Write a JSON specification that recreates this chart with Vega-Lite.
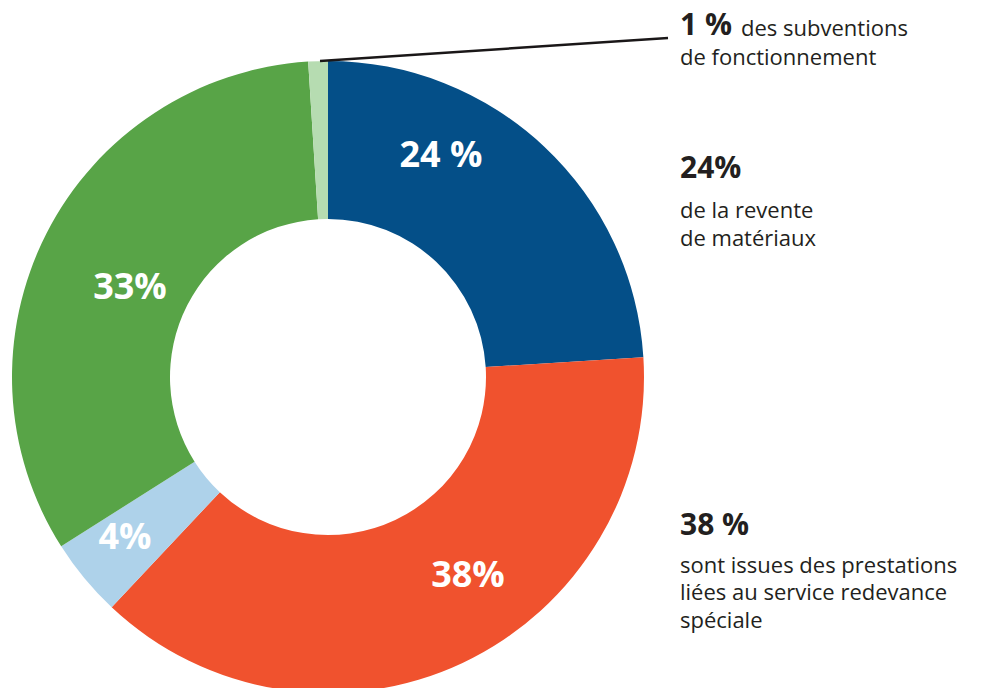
{
  "$schema": "https://vega.github.io/schema/vega-lite/v6.json",
  "width": 656,
  "height": 754,
  "autosize": {"type": "none"},
  "padding": {"left": 0, "top": 0, "right": 330, "bottom": 0},
  "background": "white",
  "config": {"view": {"stroke": null}, "font": "Open Sans"},
  "layer": [
    {
      "data": {"values": [
        {"source": "Revente de matériaux", "pct": 24, "rank": 1},
        {"source": "Prestations service redevance spéciale", "pct": 38, "rank": 2},
        {"source": "Autres recettes (4 %)", "pct": 4, "rank": 3},
        {"source": "Autres recettes (33 %)", "pct": 33, "rank": 4},
        {"source": "Subventions de fonctionnement", "pct": 1, "rank": 5}
      ]},
      "mark": {"type": "arc", "outerRadius": 316, "innerRadius": 158},
      "encoding": {
        "theta": {"field": "pct", "type": "quantitative", "stack": true},
        "order": {"field": "rank", "type": "quantitative"},
        "color": {
          "field": "source", "type": "nominal", "legend": null,
          "scale": {
            "domain": ["Revente de matériaux", "Prestations service redevance spéciale", "Autres recettes (4 %)", "Autres recettes (33 %)", "Subventions de fonctionnement"],
            "range": ["#044F88", "#F0522E", "#AED2EA", "#58A447", "#B6DCB1"]
          }
        }
      }
    },
    {
      "data": {"values": [{"ax": 320, "ay": 61, "bx": 668, "by": 38}]},
      "mark": {"type": "rule", "stroke": "#1A1718", "strokeWidth": 2.5},
      "encoding": {
        "x": {"field": "ax", "type": "quantitative", "axis": null, "scale": {"domain": [0, 656], "nice": false, "zero": false}},
        "y": {"field": "ay", "type": "quantitative", "axis": null, "scale": {"domain": [0, 754], "reverse": true, "nice": false, "zero": false}},
        "x2": {"field": "bx"},
        "y2": {"field": "by"}
      }
    },
    {
      "data": {"values": [
        {"label": "24 %", "lx": 441, "ly": 167},
        {"label": "38%", "lx": 468, "ly": 587},
        {"label": "4%", "lx": 125, "ly": 549},
        {"label": "33%", "lx": 130, "ly": 299}
      ]},
      "mark": {"type": "text", "fontSize": 36, "fontWeight": "bold", "fill": "white", "align": "center", "baseline": "alphabetic"},
      "encoding": {
        "x": {"field": "lx", "type": "quantitative", "axis": null, "scale": {"domain": [0, 656], "nice": false, "zero": false}},
        "y": {"field": "ly", "type": "quantitative", "axis": null, "scale": {"domain": [0, 754], "reverse": true, "nice": false, "zero": false}},
        "text": {"field": "label"}
      }
    },
    {
      "data": {"values": [
        {"label": "1 %", "lx": 680, "ly": 35},
        {"label": "24%", "lx": 680, "ly": 178},
        {"label": "38 %", "lx": 680, "ly": 535}
      ]},
      "mark": {"type": "text", "fontSize": 30, "fontWeight": "bold", "fill": "#231F20", "align": "left", "baseline": "alphabetic"},
      "encoding": {
        "x": {"field": "lx", "type": "quantitative", "axis": null, "scale": {"domain": [0, 656], "nice": false, "zero": false}},
        "y": {"field": "ly", "type": "quantitative", "axis": null, "scale": {"domain": [0, 754], "reverse": true, "nice": false, "zero": false}},
        "text": {"field": "label"}
      }
    },
    {
      "data": {"values": [
        {"label": "des subventions", "lx": 741, "ly": 36},
        {"label": "de fonctionnement", "lx": 680, "ly": 65},
        {"label": "de la revente", "lx": 680, "ly": 218},
        {"label": "de matériaux", "lx": 680, "ly": 246},
        {"label": "sont issues des prestations", "lx": 680, "ly": 573},
        {"label": "liées au service redevance", "lx": 680, "ly": 600},
        {"label": "spéciale", "lx": 680, "ly": 628}
      ]},
      "mark": {"type": "text", "fontSize": 22, "fill": "#231F20", "align": "left", "baseline": "alphabetic"},
      "encoding": {
        "x": {"field": "lx", "type": "quantitative", "axis": null, "scale": {"domain": [0, 656], "nice": false, "zero": false}},
        "y": {"field": "ly", "type": "quantitative", "axis": null, "scale": {"domain": [0, 754], "reverse": true, "nice": false, "zero": false}},
        "text": {"field": "label"}
      }
    }
  ]
}
